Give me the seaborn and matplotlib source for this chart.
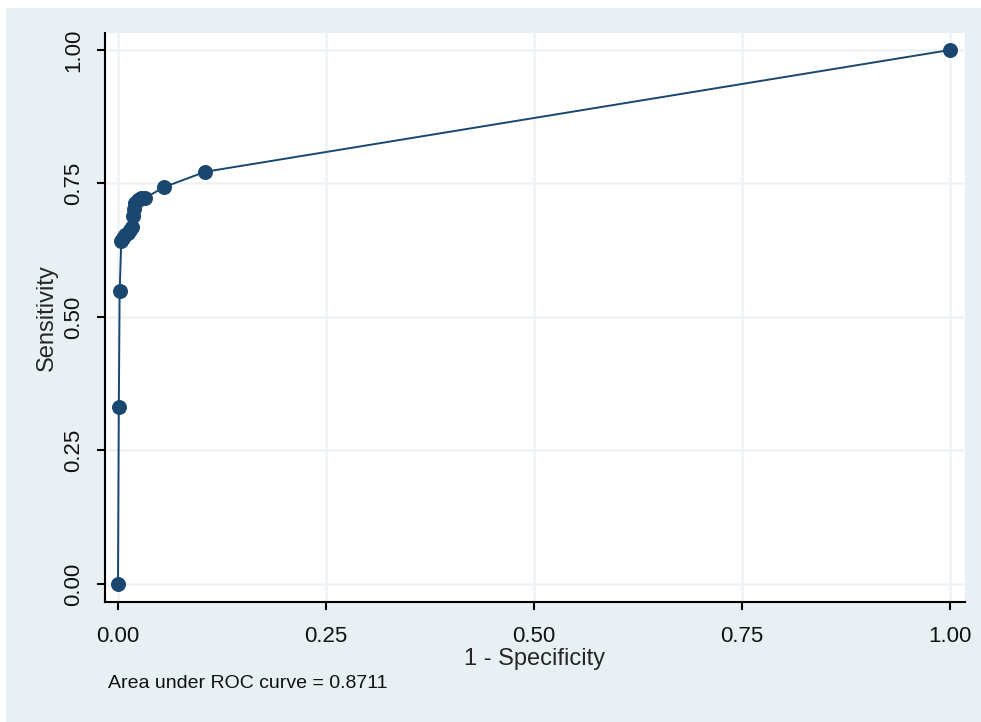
import pandas as pd
import matplotlib.pyplot as plt
from matplotlib.patches import Rectangle
import seaborn as sns

# ROC points
fpr = [0.0, 0.001, 0.002, 0.004, 0.006, 0.009, 0.012, 0.015, 0.017, 0.018,
       0.019, 0.021, 0.024, 0.028, 0.033, 0.055, 0.105, 1.0]
sens = [0.0, 0.331, 0.548, 0.643, 0.648, 0.653, 0.658, 0.663, 0.668, 0.690,
        0.702, 0.713, 0.720, 0.722, 0.723, 0.743, 0.772, 1.0]
ticks = [0.0, 0.25, 0.5, 0.75, 1.0]
tick_labels = ["0.00", "0.25", "0.50", "0.75", "1.00"]
auc_text = "Area under ROC curve = 0.8711"

df = pd.DataFrame({"fpr": fpr, "sens": sens})

sns.set_style("white")
plt.rcParams["font.family"] = ["Liberation Sans", "DejaVu Sans"]

navy = "#1a476f"
bg = "#e9f0f3"
grid = "#eef3f5"

fig = plt.figure(figsize=(9.81, 7.22), dpi=100, facecolor="white")
# light Stata-style background panel, kept behind the axes
fig.patches.append(Rectangle((6 / 981, 0), 1, 1 - 8 / 722, transform=fig.transFigure,
                             facecolor=bg, edgecolor="none", zorder=-10))

ax = fig.add_axes([105 / 981, 120 / 722, (965 - 105) / 981, (602 - 33) / 722])
ax.set_facecolor("white")

sns.lineplot(data=df, x="fpr", y="sens", sort=False, estimator=None, ax=ax,
             color=navy, linewidth=1.4, marker="o", markersize=10,
             markeredgecolor=navy, markerfacecolor=navy, zorder=3)

ax.set_xlim(-0.0156, 1.0180)
ax.set_ylim(-0.0337, 1.0318)

ax.set_xticks(ticks)
ax.set_xticklabels(tick_labels, fontsize=16)
ax.set_yticks(ticks)
ax.set_yticklabels(tick_labels, fontsize=16, rotation=90, va="center")

ax.grid(True, color=grid, linewidth=1.8)
ax.set_axisbelow(True)

for s in ["top", "right"]:
    ax.spines[s].set_visible(False)
for s in ["left", "bottom"]:
    ax.spines[s].set_color("black")
    ax.spines[s].set_linewidth(1.5)

ax.tick_params(axis="both", direction="out", length=6, width=1.5, color="black",
               labelcolor="#111111", bottom=True, left=True)
ax.tick_params(axis="x", pad=11)
ax.tick_params(axis="y", pad=9)

ax.set_xlabel("1 - Specificity", fontsize=17, labelpad=1)
ax.set_ylabel("Sensitivity", fontsize=17, labelpad=4)

fig.text(108 / 981, 1 - 683 / 722, auc_text, fontsize=14, ha="left", va="center",
         color="#111111")

fig.savefig("out.png", dpi=100, facecolor=fig.get_facecolor())
